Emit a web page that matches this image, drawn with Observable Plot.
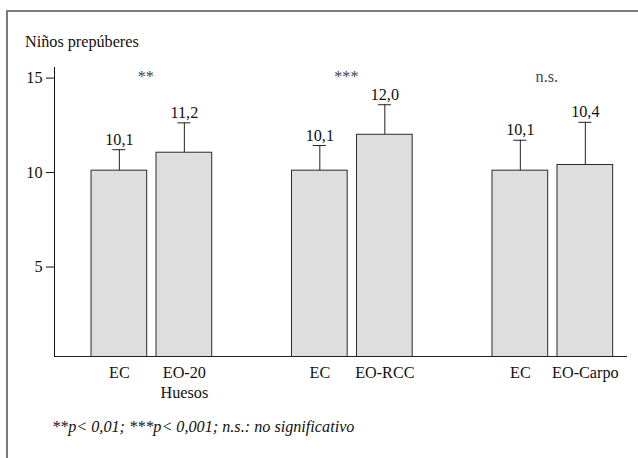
<!DOCTYPE html>
<html>
<head>
<meta charset="utf-8">
<script src="https://cdn.jsdelivr.net/npm/d3@7"></script>
<script src="https://cdn.jsdelivr.net/npm/@observablehq/plot@0.6"></script>
<style>
  html, body { margin: 0; padding: 0; background: #fff; }
  #wrap { position: relative; width: 638px; height: 458px; overflow: hidden; font-family: "Liberation Serif", "Times New Roman", "DejaVu Serif", serif; color: #111; }
  #wrap svg { position: absolute; left: 0; top: 0; }
  #wrap svg text { font-family: "Liberation Serif", "Times New Roman", "DejaVu Serif", serif; }
  .frameLeft { position: absolute; left: 6px; top: 10px; width: 2px; height: 460px; background: #7a7a7a; }
  .frameTop { position: absolute; left: 6px; top: 10px; width: 640px; height: 2px; background: #7a7a7a; }
  .title { position: absolute; left: 25px; top: 33px; font-size: 16.2px; line-height: 19px; }
  .note { position: absolute; left: 52px; top: 418px; font-size: 16.2px; line-height: 19px; font-style: italic; }
</style>
</head>
<body>
<div id="wrap">
  <div class="frameLeft"></div>
  <div class="frameTop"></div>
  <div class="title">Niños prepúberes</div>
  <div class="note">**p&lt; 0,01; ***p&lt; 0,001; n.s.: no significativo</div>
</div>
<script>
// Data
const groups = ["20 Huesos", "RCC", "Carpo"];
const ecValues = [10.1, 10.1, 10.1];
const eoValues = [11.05, 12.0, 10.4];
const ecErrTop = [11.21, 11.43, 11.71];
const eoErrTop = [12.63, 13.59, 12.66];
const ecValueLabels = ["10,1", "10,1", "10,1"];
const eoValueLabels = ["11,2", "12,0", "10,4"];
const ecTickLabels = ["EC", "EC", "EC"];
const eoTickLabels = ["EO-20\nHuesos", "EO-RCC", "EO-Carpo"];
const sigLabels = ["**", "***", "n.s."];
const yTicks = [5, 10, 15];
const yDomain = [0.265, 15.56];

const ec = groups.map((g, i) => ({group: g, value: ecValues[i], err: ecErrTop[i], label: ecValueLabels[i], tick: ecTickLabels[i]}));
const eo = groups.map((g, i) => ({group: g, value: eoValues[i], err: eoErrTop[i], label: eoValueLabels[i], tick: eoTickLabels[i]}));
const sig = groups.map((g, i) => ({group: g, text: sigLabels[i]}));

const off = 32.5;
const barFill = "#dedede", barStroke = "#2a2a2a";

const chart = Plot.plot({
  width: 638,
  height: 458,
  marginLeft: 54,
  marginRight: 11,
  marginTop: 67,
  marginBottom: 102,
  style: {fontFamily: "'Liberation Serif', 'Times New Roman', 'DejaVu Serif', serif", fontSize: "16.2px", background: "transparent", color: "#111"},
  x: {type: "band", domain: groups, paddingInner: 0.398, paddingOuter: 0.128, align: 0.721, round: false, axis: null},
  y: {domain: yDomain, ticks: yTicks, tickSize: 8, tickPadding: 4, label: null, tickFormat: d => String(d)},
  marks: [
    Plot.barY(ec, {x: "group", y: "value", insetRight: 65, fill: barFill, stroke: barStroke, strokeWidth: 1, clip: true}),
    Plot.barY(eo, {x: "group", y: "value", insetLeft: 65, fill: barFill, stroke: barStroke, strokeWidth: 1, clip: true}),
    Plot.ruleX(ec, {x: "group", y1: "value", y2: "err", dx: -off, stroke: "#222"}),
    Plot.ruleX(eo, {x: "group", y1: "value", y2: "err", dx: off, stroke: "#222"}),
    Plot.tickY(ec, {x: "group", y: "err", insetLeft: 21.3, insetRight: 86.4, stroke: "#222"}),
    Plot.tickY(eo, {x: "group", y: "err", insetLeft: 86.4, insetRight: 21.3, stroke: "#222"}),
    Plot.text(ec, {x: "group", y: "err", text: "label", dx: -off, dy: -10, lineAnchor: "middle", fill: "#111"}),
    Plot.text(eo, {x: "group", y: "err", text: "label", dx: off, dy: -10, lineAnchor: "middle", fill: "#111"}),
    Plot.text(sig, {x: "group", text: "text", frameAnchor: "top", dx: -6, dy: 9, lineAnchor: "middle", fill: "#444"}),
    Plot.text(ec, {x: "group", text: "tick", frameAnchor: "bottom", dx: -off, dy: 8, lineAnchor: "top", lineHeight: 1.2, fill: "#111"}),
    Plot.text(eo, {x: "group", text: "tick", frameAnchor: "bottom", dx: off, dy: 8, lineAnchor: "top", lineHeight: 1.2, fill: "#111"}),
    Plot.ruleY([yDomain[0]], {stroke: "#222"}),
    Plot.frame({anchor: "left", stroke: "#111"})
  ]
});
document.getElementById("wrap").appendChild(chart);
</script>
</body>
</html>
